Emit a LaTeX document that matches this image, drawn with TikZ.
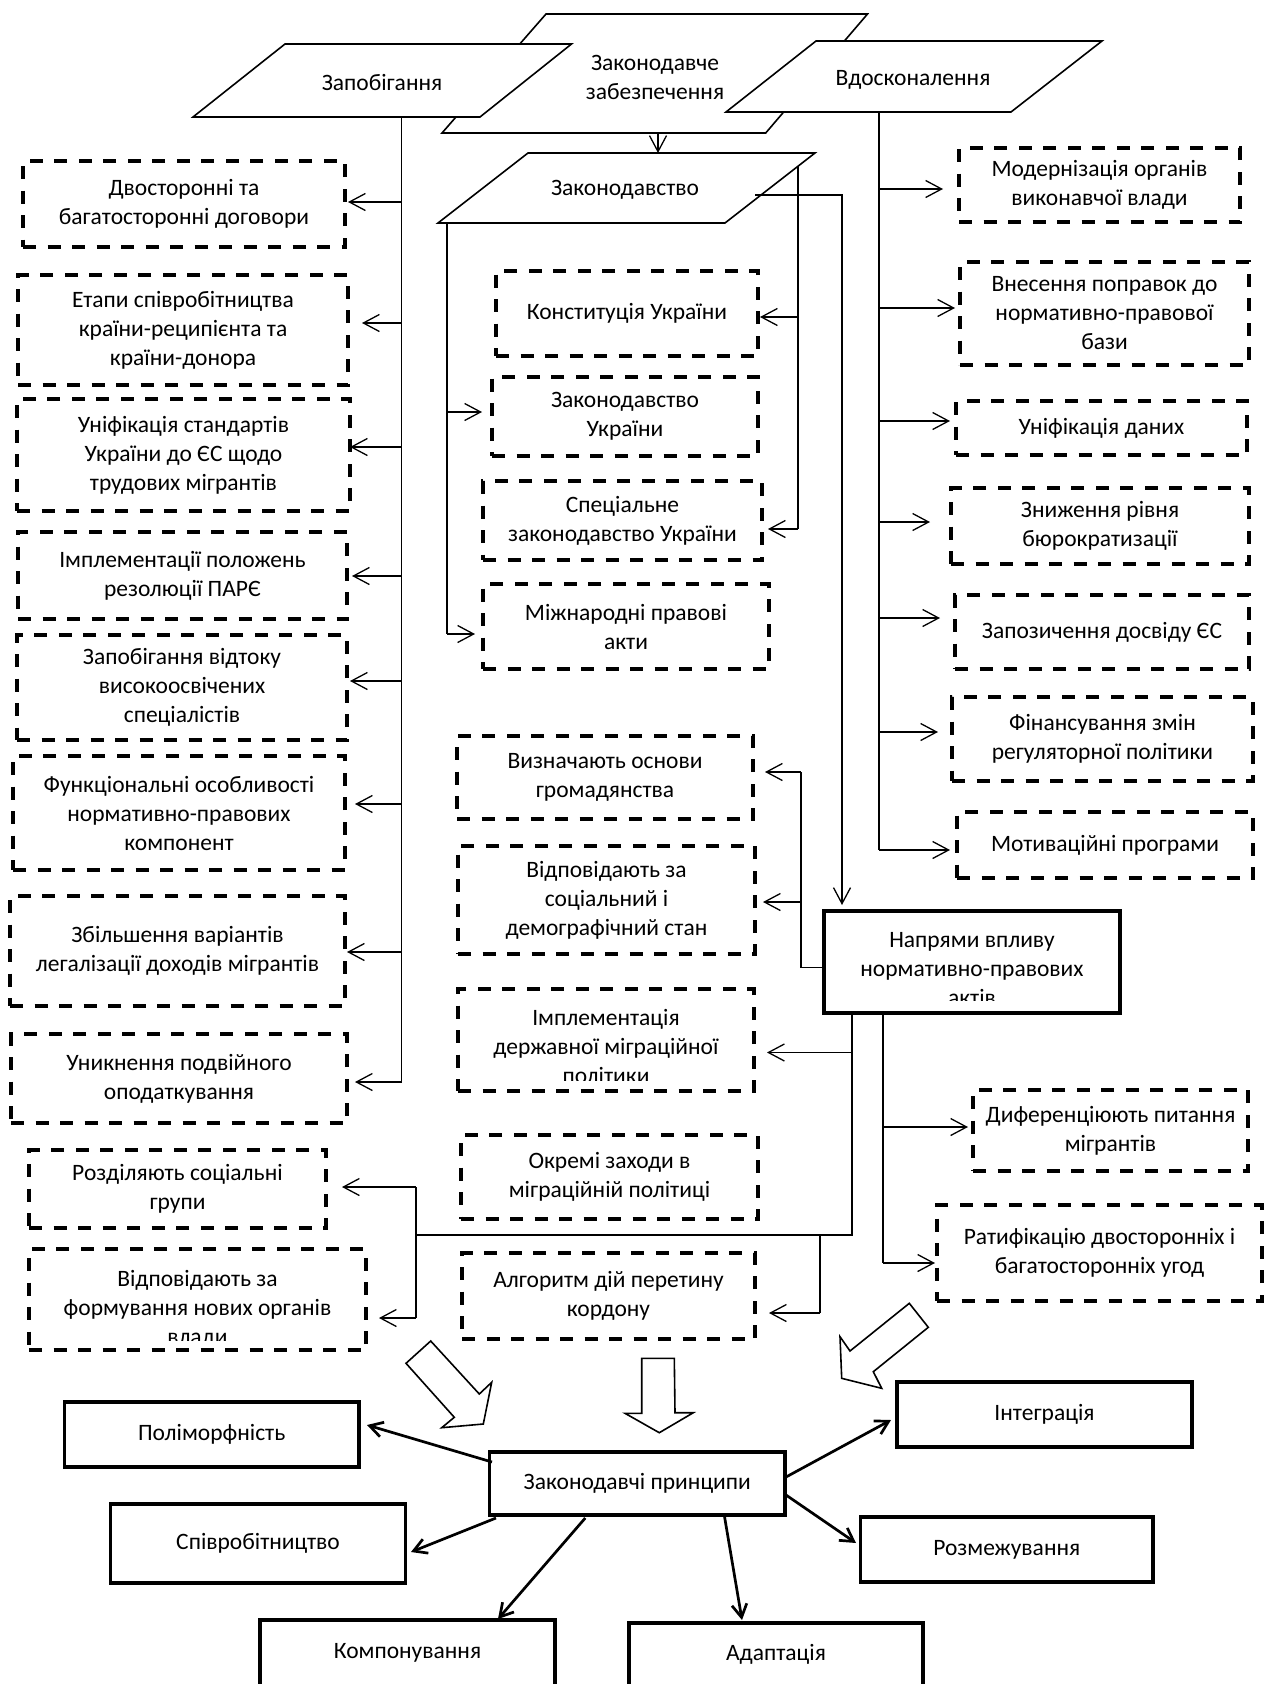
\documentclass[tikz,border=0pt]{standalone}
\usepackage{fontspec}
\setmainfont{Carlito}
\usetikzlibrary{arrows.meta,calc}
\newcommand\dbx[7][dbox]{\node[#1, minimum width={(#5-#3)*1pt}, minimum height={(#6-#4)*1pt}] (#2) at ({(#3+#5)/2},{(#4+#6)/2}) {#7};}
\newcommand\cbx[9]{\node[#1, minimum width={(#5-#3)*1pt}, minimum height={(#6-#4)*1pt}] (#2) at ({(#3+#5)/2},{(#4+#6)/2}) {};
 \begin{scope}\clip (#3,#4) rectangle (#5,#7); \node[txt] at ({(#3+#5)/2},{(#4+#6)/2+#8}) {#9};\end{scope}}
\newcommand\harr[4]{\path ($(#2)+(#3,#4)$) coordinate (tmpa); \draw[arr] (tmpa -| #1) -- (tmpa);}
\begin{document}
\begin{tikzpicture}[x=1pt,y=-1pt,
 every node/.style={font=\fontsize{23.5}{29}\selectfont},
 dbox/.style={draw, line width=4pt, dash pattern=on 13pt off 11.5pt, align=center, inner sep=0pt, outer sep=0pt},
 sbox/.style={draw, line width=3.5pt, align=center, inner sep=0pt, outer sep=0pt},
 nbox/.style={draw, line width=4pt, align=center, inner sep=0pt, outer sep=0pt},
 txt/.style={align=center, inner sep=0pt},
 ln/.style={line width=1.3pt},
 arr/.style={line width=1.3pt, -{Straight Barb[length=16pt,width=17pt]}},
 barr/.style={line width=2.7pt, -{Straight Barb[length=13pt,width=15pt]}},
 para/.style={draw, line width=1.6pt, fill=white, line join=miter},
 blk/.style={draw, line width=1.6pt, fill=white, line join=miter}]
\fill[white] (0,0) rectangle (1265,1684);
\useasboundingbox (0,0) rectangle (1265,1684);

% ---- top parallelograms
\draw[para] (546,14) -- (867.5,14) -- (765.7,133) -- (442,133) -- cycle;
\node[txt] (tzz) at (655,77) {Законодавче\\забезпечення};
\draw[para] (285,44) -- (571.5,44) -- (480,117) -- (193,117) -- cycle;
\node[txt] (tzap) at (382,83) {Запобігання};
\draw[para] (816,41) -- (1102,41) -- (1011,112) -- (726,112) -- cycle;
\node[txt] (tvd) at (913,80) {Вдосконалення};
\draw[para] (528,153) -- (815,153) -- (725,223) -- (438,223) -- cycle;
\node[txt] (tzak) at (625,190) {Законодавство};

% ---- left column
\dbx{L1}{23}{161}{345}{247}{Двосторонні та\\багатосторонні договори}
\dbx{L2}{18}{275}{348}{385}{Етапи співробітництва\\країни-реципієнта та\\країни-донора}
\dbx{L3}{17}{399}{350}{511}{Уніфікація стандартів\\України до ЄС щодо\\трудових мігрантів}
\dbx{L4}{18}{532}{347}{619}{Імплементації положень\\резолюції ПАРЄ}
\dbx{L5}{17}{635}{347}{740}{Запобігання відтоку\\високоосвічених\\спеціалістів}
\dbx{L6}{13}{756}{345}{870}{Функціональні особливості\\нормативно-правових\\компонент}
\dbx{L7}{10}{896}{345}{1006}{Збільшення варіантів\\легалізації доходів мігрантів}
\dbx{L8}{11}{1034}{347}{1123}{Уникнення подвійного\\оподаткування}
\dbx{L9}{29}{1150}{326}{1228}{Розділяють соціальні\\групи}
\cbx{dbox}{L10}{29}{1249}{366}{1350}{1340}{9.5}{Відповідають за\\формування нових органів\\влади}

% ---- centre column
\dbx{C1}{496}{271}{758}{356}{Конституція України}
\dbx{C2}{492}{377}{758}{456}{Законодавство\\України}
\dbx{C3}{483}{481}{762}{560}{Спеціальне\\законодавство України}
\dbx{C4}{483}{584}{769}{669}{Міжнародні правові\\акти}
\dbx{M1}{457}{736}{753}{819}{Визначають основи\\громадянства}
\dbx{M2}{458}{846}{755}{954}{Відповідають за\\соціальний і\\демографічний стан}
\cbx{dbox}{M3}{458}{989}{754}{1091}{1080}{6}{Імплементація\\державної міграційної\\політики}
\dbx{M4}{461}{1135}{758}{1219}{Окремі заходи в\\міграційній політиці}
\dbx{M5}{462}{1253}{755}{1339}{Алгоритм дій перетину\\кордону}

% ---- right column
\dbx{R1}{959}{148}{1240}{222}{Модернізація органів\\виконавчої влади}
\dbx{R2}{960}{262}{1249}{365}{Внесення поправок до\\нормативно-правової\\бази}
\dbx{R3}{956}{401}{1247}{455}{Уніфікація даних}
\dbx{R4}{951}{488}{1249}{564}{Зниження рівня\\бюрократизації}
\dbx{R5}{955}{595}{1249}{669}{Запозичення досвіду ЄС}
\dbx{R6}{952}{697}{1253}{781}{Фінансування змін\\регуляторної політики}
\dbx{R7}{957}{812}{1253}{878}{Мотиваційні програми}
\dbx{R8}{973}{1090}{1248}{1171}{Диференціюють питання\\мігрантів}
\dbx{R9}{937}{1205}{1262}{1301}{Ратифікацію двосторонніх і\\багатосторонніх угод}

% ---- Напрями
\cbx{nbox}{N}{824}{911}{1120}{1013}{1000}{7}{Напрями впливу\\нормативно-правових\\актів}

% ---- connectors: top
\coordinate (zzS) at (658,133);
\coordinate (zakN) at (658,153);
\draw[arr] (zzS) -- (zakN);

% Запобігання spine
\coordinate (zapS) at (401.6,117);
\coordinate (zapE) at (401.6,1082);
\draw[ln] (zapS) -- (zapE);
\harr{zapS}{L1.east}{3}{-2}
\harr{zapS}{L2.east}{14}{-7}
\harr{zapS}{L3.east}{0}{-8}
\harr{zapS}{L4.east}{5}{0.5}
\harr{zapS}{L5.east}{3}{-6.5}
\harr{zapS}{L6.east}{10}{-9}
\harr{zapS}{L7.east}{2}{1}
\harr{zapS}{L8.east}{8}{3.5}

% Вдосконалення spine
\coordinate (vdS) at (879,112);
\coordinate (vdE) at (879,850);
\draw[ln] (vdS) -- (vdE);
\harr{vdS}{R1.west}{-16}{4}
\harr{vdS}{R2.west}{-5}{-5.5}
\harr{vdS}{R3.west}{-6}{-7}
\harr{vdS}{R4.west}{-21}{-4}
\harr{vdS}{R5.west}{-15}{-14}
\harr{vdS}{R6.west}{-14}{-7}
\harr{vdS}{R7.west}{-7}{5}

% Законодавство spines
\coordinate (zakR) at (798,166);
\coordinate (zakRe) at (798,529);
\draw[ln] (zakR) -- (zakRe);
\harr{zakR}{C1.east}{2}{3.5}
\harr{zakR}{C3.east}{6}{8.5}
\coordinate (zakL) at (447,223);
\coordinate (zakLe) at (447,634);
\draw[ln] (zakL) -- (zakLe);
\harr{zakL}{C2.west}{-10}{-4.5}
\harr{zakL}{C4.west}{-8}{7.5}
\coordinate (zakO) at (755,195);
\coordinate (zakK) at (842,195);
\draw[arr] (zakO) -- (zakK) -- ($(zakK |- N.north)+(0,-6)$);

% Напрями left
\coordinate (nk1) at (801,967.5);
\coordinate (nk2) at (801,772);
\draw[ln] ($(N.west)+(0,5.5)$) -- (nk1) -- (nk2);
\harr{nk1}{M1.east}{12}{-5.5}
\harr{nk1}{M2.east}{8}{2}

% Напрями bottom-left
\coordinate (nb1) at (852,1013);
\coordinate (nb1c) at (852,1235);
\coordinate (hl) at (416,1235);
\draw[ln] (nb1) -- (nb1c) -- (hl);
\harr{nb1}{M3.east}{13}{12.5}
\coordinate (hv1) at (416,1187);
\coordinate (hv2) at (416,1318);
\draw[ln] (hv1) -- (hv2);
\harr{hv1}{L9.east}{16}{-2}
\harr{hv1}{L10.east}{13}{18.5}
\coordinate (alg) at (820,1235);
\coordinate (algE) at (820,1313);
\draw[ln] (alg) -- (algE);
\harr{alg}{M5.east}{14}{17}

% Напрями bottom-right
\coordinate (nb2) at (883,1013);
\coordinate (nb2e) at (883,1263);
\draw[ln] (nb2) -- (nb2e);
\harr{nb2}{R8.west}{-5}{-3.5}
\harr{nb2}{R9.west}{-2}{10}

% ---- block arrows
\draw[blk] (430.7,1341) -- (479.3,1394) -- (491.7,1382.3) -- (483.3,1424) -- (441.7,1427.7) -- (454.3,1417.3) -- (406,1363.3) -- cycle;
\draw[blk] (641.7,1358.3) -- (674.3,1358.3) -- (675,1412.7) -- (693.3,1412.7) -- (659.3,1432.7) -- (625,1413.3) -- (641.7,1413.3) -- cycle;
\draw[blk] (909.3,1303.3) -- (928.3,1327.3) -- (873.3,1371.7) -- (881.7,1388.3) -- (841.7,1378.3) -- (840,1336.7) -- (850,1351) -- cycle;

% ---- principles
\dbx[sbox]{B0}{489.5}{1452}{785}{1515}{Законодавчі принципи}
\dbx[sbox]{B1}{64.5}{1402}{359}{1467}{Поліморфність}
\dbx[sbox]{B2}{897}{1382}{1192}{1447}{Інтеграція}
\dbx[sbox]{B3}{110.5}{1504}{405.6}{1583}{Співробітництво}
\dbx[sbox]{B4}{860.5}{1517}{1153}{1582}{Розмежування}
\dbx[sbox]{B5}{260}{1620}{555}{1686}{Компонування}
\dbx[sbox]{B6}{629}{1623}{923}{1686}{Адаптація}
\draw[barr] ($(B0.west)+(2.5,-21.5)$) -- ($(B1.east)+(8,-9.5)$);
\draw[barr] ($(B0.east)+(1,-6.5)$) -- ($(B2.west)+(-6,5.5)$);
\draw[barr] ($(B0.south west)+(6.5,3)$) -- ($(B3.east)+(5.4,8.5)$);
\draw[barr] ($(B0.east)+(1,11.5)$) -- ($(B4.west)+(-4.5,-6.5)$);
\draw[barr] ($(B0.south)+(-52,3)$) -- ($(B5.north)+(90.5,-1)$);
\draw[barr] ($(B0.south)+(87,0)$) -- ($(B6.north)+(-34,-3)$);
\end{tikzpicture}
\end{document}
